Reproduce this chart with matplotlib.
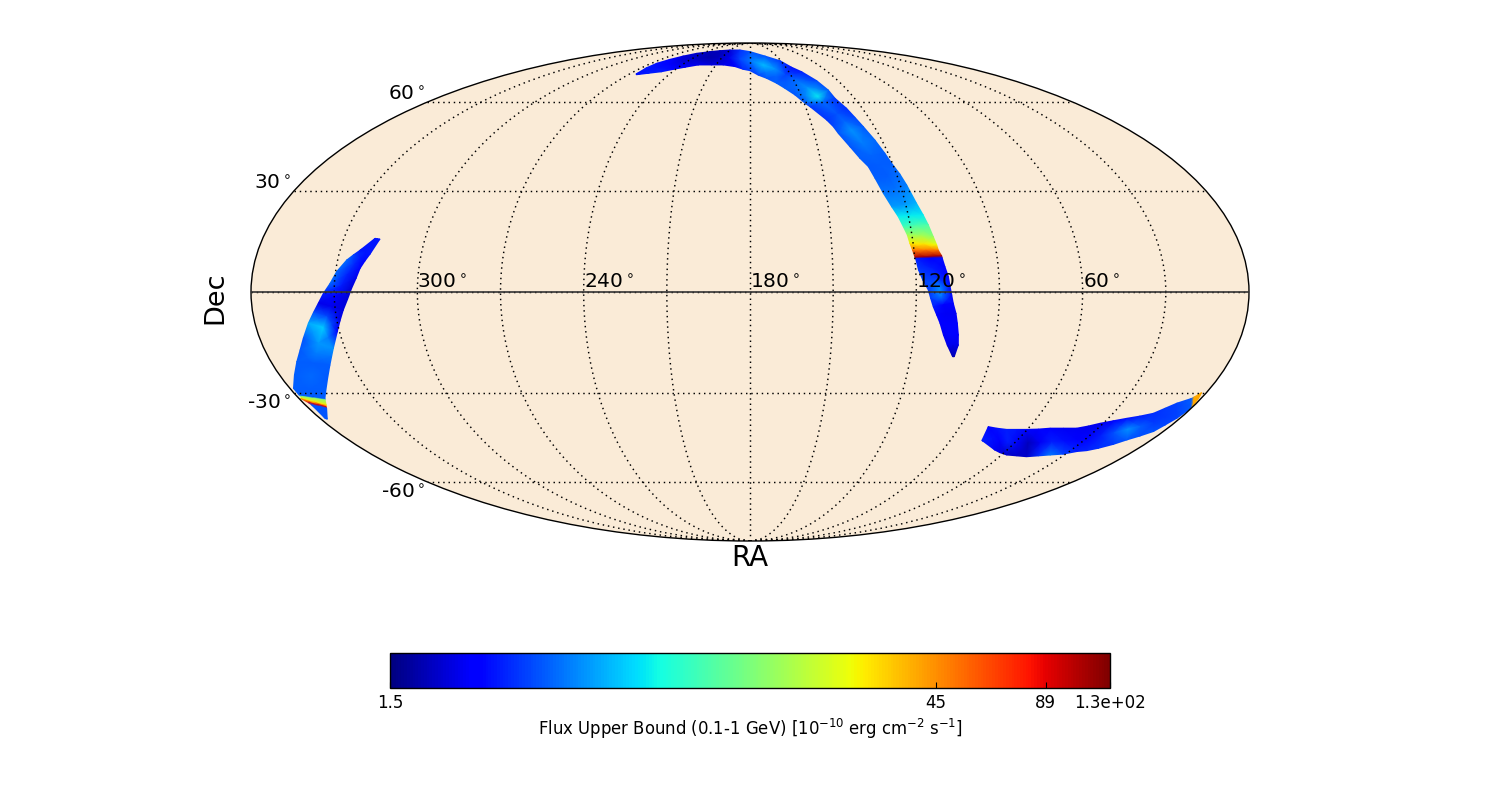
import numpy as np
import matplotlib
matplotlib.use('Agg')
import matplotlib.pyplot as plt
from matplotlib.colors import LogNorm
from matplotlib.cm import ScalarMappable
from matplotlib.ticker import FuncFormatter, NullFormatter

plt.rcParams['font.family'] = 'DejaVu Sans'
plt.rcParams['mathtext.default'] = 'regular'

# Swath edges (RA, Dec in degrees) and flux at edge A, centre and edge B
north_ra_a = [265.1,265.9,265.1,261,255.4,247.5,235.2,223.9,210.6,195.3,180,163,150.7,145.1,140,134.5,131.7,131.2,128.4,126.9,125.3,123.1,121.4,120.3,118.6,117.4,115.7,114.3,113.2,112.2,111.4,111.1,110.1,110,109.3,108.3,107.8,107.2,106.6,105.4,104.6,103.7,103.1,103.7]
north_de_a = [71.5,74.4,76.5,78.5,80.3,81.9,82.9,83.5,83.9,83.9,82.9,80.3,77.8,74.6,72.5,68.6,64.7,61.5,57.7,54.4,51.1,46.5,42.1,38.9,35.4,32,26.3,22.8,19.8,16.3,13.8,12.3,10.6,10,7.4,4.5,1.6,-0.9,-3.3,-6.3,-9.2,-12.6,-15.6,-19.1]
north_ra_b = [263.8,256.7,248.4,241.8,234.4,225.3,213.6,203.4,192.7,185.4,180,173.9,168.3,162.4,158.1,153.5,149.6,147.6,141.8,139.8,138.7,135.6,133,130.6,129.3,127.6,125.6,123.9,122.7,121.7,121.2,120.5,119.9,119.7,119,117.6,115.7,114.8,113.8,112.4,110.9,109.2,107.2,104.3]
north_de_b = [71.2,71.8,72.5,73.6,74.6,75.7,75.7,75.7,74.9,73.6,73,71,69.6,67.5,65.4,62.8,59.6,58.3,53.5,51.1,48.8,44.3,40.5,37.8,34.1,29.4,25.3,22.3,19.3,16.8,14.3,12.3,10.2,9.8,6.5,3.5,0.6,-1.9,-4.3,-6.7,-9.2,-12.6,-15.6,-19.1]
north_flux_a = [2.8,3.0,2.8,2.5,2.2,2.0,1.9,1.9,2.1,3.2,3.8,3.8,3.4,2.8,3.0,3.6,4.0,3.4,3.2,3.6,3.9,4.2,4.0,4.0,4.3,4.6,5.8,7.5,11,16,27,50,110,2.8,2.6,2.6,2.8,2.7,2.6,2.4,2.5,2.6,2.3,1.8]
north_flux_c = [2.8,2.9,2.8,2.5,2.1,2.0,1.8,1.9,2.3,3.6,4.4,6.0,5.0,3.6,4.2,5.0,7.5,4.2,3.8,4.2,5.0,4.6,4.1,4.0,4.0,4.3,5.2,7.5,11,18,30,50,110,2.6,3.0,3.4,5.0,4.5,2.6,2.4,2.6,2.7,2.3,1.8]
north_flux_b = [2.8,3.0,3.0,2.7,2.5,2.3,2.2,2.3,2.6,3.2,3.4,3.6,3.8,4.0,4.0,3.8,3.8,3.4,3.3,3.6,3.8,3.8,4.0,3.9,4.0,4.4,5.2,7.5,10,17,28,50,110,3.0,3.4,3.6,3.4,3.4,3.0,2.6,2.5,2.4,2.3,1.8]

west_ra_a = [316.6,318.7,320,321.3,322.3,323.7,325.2,327.1,328.9,330.8,334.3,336.3,338.5,342.4,347,349.7,350.1,351.6,352.3,352.7,357.4]
west_de_a = [15.6,11.1,9.1,6.9,4,1.1,-2.1,-5.3,-8.5,-11.7,-16.6,-19.1,-21.6,-25.6,-29.7,-31.9,-32.3,-33.9,-34.4,-34.9,-38.4]
west_ra_b = [318.5,322.7,324.7,326.7,329.6,331.6,333.9,335.9,338,340.6,344,346.9,350.3,354.3,358.6,358.7,358.2,359.3,357.8,357.4,357.9]
west_de_b = [15.8,12.3,10.9,9.4,6,2.5,-0.4,-3.3,-6,-9.2,-13.6,-17.1,-20.6,-24.6,-28.7,-30.9,-31.3,-31.8,-33.1,-33.9,-38.1]
west_flux_a = [2.9,2.9,2.6,2.5,2.3,2.1,2.1,2.2,2.3,2.6,5.0,4.4,4.0,3.9,4.0,4.0,15,30,90,3.8,3.8]
west_flux_c = [2.9,2.9,3.0,3.2,3.1,3.0,2.5,2.3,3.7,6.5,5.2,4.6,4.0,4.2,4.0,4.0,16,30,90,3.8,3.8]
west_flux_b = [2.9,2.9,3.6,4.2,4.2,4.2,3.0,2.3,3.7,5.5,3.8,3.9,4.0,4.0,4.0,4.0,15,30,90,3.8,3.8]

south_ra_a = [75.8,77.8,73.7,69,64.7,60.4,55.4,50.7,44.9,39.2,35.2,31.4,26.9,22.3,17.8,13.4,10.7,7.9,3.8,3.3,1.9]
south_de_a = [-45.4,-40.8,-41.3,-41.7,-41.7,-41.7,-41.6,-41.3,-41.3,-41.3,-40.6,-39.7,-38.9,-38.1,-37.4,-36.5,-34.9,-33.3,-31.8,-31.4,-30]
south_ra_b = [75.1,65.7,62,57.5,52.2,47,41.8,36.8,31.2,26.4,22.4,18.6,14.3,11,7.6,4.3,2.9,1.4,0.1,0.3,1.1]
south_de_b = [-45.6,-48.6,-49.5,-50.3,-50.6,-50.9,-50.6,-50.3,-50,-49.1,-48.8,-48,-46.7,-45.2,-43.9,-42.4,-40.3,-38.1,-34.9,-34.2,-31.8]
south_flux_a = [3.0,2.6,2.8,3.0,2.9,2.7,2.6,2.5,2.4,2.4,2.3,2.3,2.5,2.8,3.0,3.2,3.4,3.5,4.0,40,40]
south_flux_c = [3.0,2.8,2.6,3.0,2.4,1.9,2.4,3.0,2.8,2.5,2.7,3.0,3.8,5.0,4.0,3.4,3.4,3.5,4.0,40,40]
south_flux_b = [3.0,2.4,2.2,2.0,2.0,2.0,3.2,4.5,3.6,3.0,3.1,3.2,3.4,3.8,3.7,3.8,3.6,3.5,4.0,40,40]

ra_major = [300, 240, 180, 120, 60]
dec_major = [60, 30, -30, -60]
cbar_ticks = [1.5, 45, 89, 133]
cbar_labels = ['1.5', '45', '89', '1.3e+02']
flux_min, flux_max = 1.5, 133

swaths = [
    (north_ra_a, north_de_a, north_ra_b, north_de_b, north_flux_a, north_flux_c, north_flux_b),
    (west_ra_a, west_de_a, west_ra_b, west_de_b, west_flux_a, west_flux_c, west_flux_b),
    (south_ra_a, south_de_a, south_ra_b, south_de_b, south_flux_a, south_flux_c, south_flux_b),
]

fig = plt.figure(figsize=(15, 8), dpi=100)
W, H = 1500, 800
ax = fig.add_axes([251/W, (H-541)/H, 998/W, 498/H], projection='mollweide')
ax.set_aspect('auto')
ax.set_facecolor('#FAEBD7')
norm = LogNorm(vmin=flux_min, vmax=flux_max)

for ra_a, de_a, ra_b, de_b, fa, fc, fb in swaths:
    ra_a, ra_b = np.array(ra_a), np.array(ra_b)
    de_a, de_b = np.array(de_a), np.array(de_b)
    lon = np.radians(180 - np.column_stack([ra_a, (ra_a+ra_b)/2, ra_b]))
    lat = np.radians(np.column_stack([de_a, (de_a+de_b)/2, de_b]))
    flux = np.column_stack([fa, fc, fb])
    ax.pcolormesh(lon, lat, flux, cmap='jet', norm=norm, shading='gouraud', zorder=1)

ax.set_longitude_grid(30)
ax.set_latitude_grid(30)
ax.set_longitude_grid_ends(90)
ax.grid(True, color='black', linestyle=(0, (1, 2.6)), linewidth=1.05, alpha=1)
ax.set_axisbelow(False)
ax.plot(np.radians([-180, 180]), [0, 0], color='#333333', lw=1.2, zorder=4)

def ra_fmt(x, pos):
    ra = int(round(180 - np.degrees(x)))
    return f'{ra}$^\\circ$' if ra in ra_major else ''

ax.xaxis.set_major_formatter(FuncFormatter(ra_fmt))
ax.yaxis.set_major_formatter(NullFormatter())
ax.tick_params(labelsize=14.5)
fig.canvas.draw()
for t in ax.xaxis.get_major_ticks():
    t.label1.set_ha('left')
    t.label1.set_va('baseline')

for d in dec_major:
    ax.annotate(f'{d}$^\\circ$', xy=(-np.pi, np.radians(d)), xycoords='data',
                xytext=(-2, 8 if d > 0 else -11), textcoords='offset pixels',
                ha='right', va='center', fontsize=14.5, annotation_clip=False)

for s in ax.spines.values():
    s.set_linewidth(1.0)
    s.set_color('black')

fig.text(215/W, (H-298)/H, 'Dec', rotation=90, ha='center', va='center', fontsize=19.5)
fig.text(750/W, (H-558)/H, 'RA', ha='center', va='center', fontsize=20)

cax = fig.add_axes([390/W, (H-688)/H, 720/W, 35/H])
cb = fig.colorbar(ScalarMappable(norm=norm, cmap='jet'), cax=cax, orientation='horizontal')
cb.minorticks_off()
cb.set_ticks(cbar_ticks)
cb.set_ticklabels(cbar_labels)
cax.xaxis.set_tick_params(which='major', direction='in', length=4, width=0.8, labelsize=12, pad=4)
cax.xaxis.set_tick_params(which='minor', length=0)
cb.outline.set_linewidth(1.0)
cb.set_label('Flux Upper Bound (0.1-1 GeV) [$10^{-10}$ erg cm$^{-2}$ s$^{-1}$]', fontsize=11.9, labelpad=4)

fig.savefig('out.png', dpi=100)
